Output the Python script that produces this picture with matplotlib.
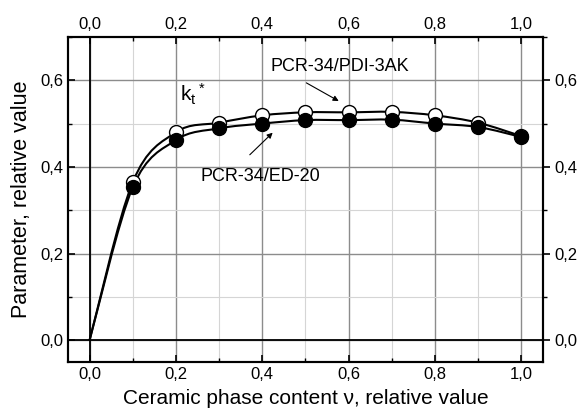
import numpy as np
import matplotlib
matplotlib.use('Agg')
import matplotlib.pyplot as plt
from matplotlib.path import Path
from matplotlib.patches import PathPatch
from matplotlib.ticker import MultipleLocator, FuncFormatter

plt.rcParams['font.family'] = ['Liberation Sans', 'DejaVu Sans']
plt.rcParams['mathtext.default'] = 'regular'

# data
v = [0.0, 0.1, 0.2, 0.3, 0.4, 0.5, 0.6, 0.7, 0.8, 0.9, 1.0]
pdi_3ak = [0.0, 0.365, 0.480, 0.502, 0.519, 0.526, 0.526, 0.527, 0.519, 0.502, 0.471]
ed_20 = [0.0, 0.353, 0.462, 0.489, 0.500, 0.508, 0.508, 0.509, 0.500, 0.492, 0.469]


def smooth_path(x, y):
    # catmull-rom through the points, drawn as bezier curves
    p = np.column_stack([x, y])
    n = len(p)
    verts = [p[0]]
    codes = [Path.MOVETO]
    for i in range(n - 1):
        p0 = p[i - 1] if i > 0 else p[i]
        p3 = p[i + 2] if i + 2 < n else p[i + 1]
        c1 = p[i] + (p[i + 1] - p0) / 6
        c2 = p[i + 1] - (p3 - p[i]) / 6
        verts += [c1, c2, p[i + 1]]
        codes += [Path.CURVE4] * 3
    return Path(verts, codes)


fig = plt.figure(figsize=(5.81, 4.15), dpi=100)
ax = fig.add_axes([0.117, 0.128, 0.8176, 0.783])

ax.set_xlim(-0.05, 1.05)
ax.set_ylim(-0.05, 0.7)

ax.xaxis.set_major_locator(MultipleLocator(0.2))
ax.xaxis.set_minor_locator(MultipleLocator(0.1))
ax.yaxis.set_major_locator(MultipleLocator(0.2))
ax.yaxis.set_minor_locator(MultipleLocator(0.1))
fmt = FuncFormatter(lambda val, pos: ('%.1f' % val).replace('.', ','))
ax.xaxis.set_major_formatter(fmt)
ax.yaxis.set_major_formatter(fmt)

ax.grid(which='major', color='#8c8c8c', lw=1.0)
ax.grid(which='minor', color='#d5d5d5', lw=0.8)
ax.set_axisbelow(True)
ax.axhline(0, color='black', lw=1.3, zorder=1)
ax.axvline(0, color='black', lw=1.3, zorder=1)

for ys in (pdi_3ak, ed_20):
    ax.add_patch(PathPatch(smooth_path(v, ys), fc='none', ec='black', lw=1.5, zorder=3))

ax.plot(v[1:], pdi_3ak[1:], ls='none', marker='o', ms=10, mfc='white', mec='black', mew=1.0, zorder=4)
ax.plot(v[1:], ed_20[1:], ls='none', marker='o', ms=10, mfc='black', mec='black', zorder=5)

ax.text(0.21, 0.55, r'k$_t$$^*$', fontsize=15, ha='left', va='baseline')

arrow = dict(arrowstyle='-|>', lw=0.8, color='black', mutation_scale=8, shrinkA=0, shrinkB=0)
ax.text(0.58, 0.631, 'PCR-34/PDI-3AK', ha='center', va='center', fontsize=13)
ax.annotate('', xy=(0.577, 0.552), xytext=(0.502, 0.594), arrowprops=arrow)
ax.text(0.396, 0.378, 'PCR-34/ED-20', ha='center', va='center', fontsize=13)
ax.annotate('', xy=(0.424, 0.479), xytext=(0.371, 0.428), arrowprops=arrow)

for s in ax.spines.values():
    s.set_linewidth(1.5)
ax.tick_params(which='both', direction='in', top=True, labeltop=True, labelsize=12)
ax.tick_params(which='major', length=5, width=1.2)
ax.tick_params(which='minor', length=3, width=1.0)
ax.tick_params(axis='y', right=False)

ax2 = ax.twinx()
ax2.set_ylim(ax.get_ylim())
ax2.yaxis.set_major_locator(MultipleLocator(0.2))
ax2.yaxis.set_minor_locator(MultipleLocator(0.1))
ax2.yaxis.set_major_formatter(fmt)
ax2.tick_params(which='both', direction='out', labelsize=12)
ax2.tick_params(which='major', length=5, width=1.2)
ax2.tick_params(which='minor', length=3, width=1.0)
for s in ax2.spines.values():
    s.set_linewidth(1.5)

ax.set_xlabel('Ceramic phase content \u03bd, relative value', fontsize=15, labelpad=5)
ax.set_ylabel('Parameter, relative value', fontsize=15.5, labelpad=6)

fig.savefig('out.png', dpi=100)
